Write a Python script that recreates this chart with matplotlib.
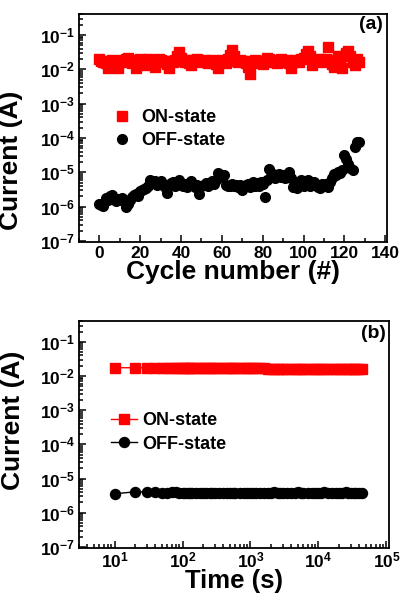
import numpy as np
import matplotlib
matplotlib.use("Agg")
import matplotlib.pyplot as plt
from matplotlib.ticker import LogLocator, MultipleLocator, NullFormatter

# ─── Data ────────────────────────────────────────────────────────────────────
cycles = list(range(128))

on_cycle = [  # x 1e-2 A
    2.0, 1.8, 1.6, 1.5, 1.1, 1.7, 1.9, 1.6, 1.4, 1.1, 1.7, 1.9, 1.6, 2.0, 2.1, 1.8,
    1.5, 1.9, 1.1, 1.6, 2.0, 1.8, 1.3, 1.9, 2.0, 1.7, 1.5, 1.2, 1.8, 2.0, 1.9, 1.6,
    1.7, 1.4, 1.1, 1.8, 1.6, 1.9, 2.4, 3.2, 2.2, 1.8, 1.6, 1.9, 1.5, 1.3, 1.9, 1.8,
    2.0, 1.7, 1.6, 1.9, 1.8, 1.5, 1.8, 1.9, 1.6, 1.4, 1.1, 1.7, 1.9, 1.8, 1.5, 2.0,
    2.6, 3.6, 2.4, 1.8, 1.6, 1.9, 1.7, 1.8, 1.5, 1.2, 0.75, 1.5, 1.9, 1.7, 1.8, 1.6,
    1.4, 1.8, 2.1, 2.0, 1.7, 1.6, 1.9, 1.5, 1.8, 2.0, 1.6, 1.7, 1.9, 1.5, 1.1, 1.6,
    1.9, 1.8, 1.6, 2.0, 2.2, 2.8, 3.4, 2.4, 1.3, 1.9, 1.7, 1.8, 2.0, 1.6, 1.7, 2.0,
    4.4, 1.9, 1.4, 1.2, 1.8, 2.4, 1.9, 1.1, 2.4, 2.9, 3.4, 2.5, 1.6, 1.3, 2.0, 1.6,
]
off_cycle = [  # x 1e-6 A
    1.2, 1.1, 1.05, 1.8, 1.6, 2.0, 2.2, 1.7, 1.5, 1.7, 1.6, 1.8, 1.5, 1.0, 1.2, 1.6,
    1.9, 2.2, 2.4, 2.0, 2.9, 3.0, 3.3, 3.5, 3.9, 5.8, 4.8, 5.5, 4.2, 5.0, 5.6, 4.4,
    3.8, 2.5, 4.0, 4.8, 5.3, 4.1, 4.8, 5.8, 4.4, 3.9, 4.6, 3.7, 4.4, 5.7, 4.2, 3.8,
    4.3, 2.4, 3.9, 4.4, 5.0, 4.0, 4.9, 5.6, 4.5, 6.0, 9.8, 7.5, 8.6, 8.4, 4.3, 3.9,
    4.1, 4.6, 4.0, 4.4, 3.7, 4.2, 3.0, 3.9, 4.3, 4.7, 3.8, 5.1, 4.0, 5.0, 4.1, 5.3,
    4.5, 1.9, 6.0, 12.5, 8.0, 9.2, 7.0, 8.6, 9.0, 7.4, 8.2, 6.8, 8.0, 10.5, 7.0, 3.8,
    4.5, 3.6, 4.2, 5.8, 4.0, 4.6, 5.9, 3.9, 4.2, 5.1, 4.4, 3.8, 3.4, 4.6, 4.2, 4.6,
    3.8, 5.2, 6.8, 9.2, 8.6, 10.4, 9.6, 11.5, 33.0, 24.0, 17.0, 13.5, 12.0, 55.0, 78.0, 74.0,
]

time_s = [
    10, 20, 30, 40, 50, 60, 70, 80, 90, 100, 110, 120, 130, 140, 160, 180, 200, 225,
    250, 275, 300, 350, 400, 450, 500, 550, 600, 700, 800, 900, 1000, 1100, 1200,
    1400, 1600, 1800, 2000, 2250, 2500, 2750, 3000, 3500, 4000, 4500, 5000, 5500,
    6000, 7000, 8000, 9000, 10000, 11000, 12000, 14000, 16000, 18000, 20000, 22500,
    25000, 27500, 30000, 33000, 36000, 39500, 43200,
]
on_time = [  # x 1e-2 A
    1.75, 1.75, 1.74, 1.74, 1.73, 1.73, 1.73, 1.73, 1.72, 1.72, 1.72, 1.72, 1.72,
    1.71, 1.71, 1.71, 1.71, 1.70, 1.70, 1.70, 1.70, 1.70, 1.69, 1.69, 1.69, 1.69,
    1.69, 1.68, 1.68, 1.68, 1.68, 1.68, 1.67, 1.67, 1.67, 1.66, 1.66, 1.66, 1.65,
    1.65, 1.65, 1.64, 1.64, 1.63, 1.63, 1.63, 1.62, 1.62, 1.61, 1.61, 1.61, 1.60,
    1.60, 1.60, 1.59, 1.59, 1.59, 1.59, 1.58, 1.58, 1.58, 1.58, 1.57, 1.57, 1.57,
]
off_time = [  # x 1e-6 A
    3.6, 4.1, 4.1, 4.0, 3.9, 3.8, 4.0, 4.0, 3.9, 3.8, 3.7, 3.8, 3.8, 3.9, 3.8, 3.8,
    3.9, 3.8, 3.8, 3.9, 3.8, 3.9, 3.9, 3.8, 3.9, 3.9, 3.8, 3.9, 3.9, 3.8, 3.9, 3.9,
    3.9, 3.9, 3.9, 3.9, 3.9, 4.0, 3.9, 3.9, 3.9, 3.9, 3.9, 3.9, 4.0, 3.9, 3.9, 3.9,
    3.9, 3.9, 3.9, 3.9, 4.0, 3.9, 3.9, 3.9, 3.9, 3.9, 4.0, 3.9, 3.9, 3.9, 3.9, 3.9,
    3.9,
]

current_ticks = [1e-7, 1e-6, 1e-5, 1e-4, 1e-3, 1e-2, 1e-1]
time_ticks = [1e1, 1e2, 1e3, 1e4, 1e5]

RED = "#ff0000"
BLACK = "#000000"

plt.rcParams.update({
    "font.family": ["Liberation Sans", "DejaVu Sans"],
    "font.weight": "bold",
    "mathtext.fontset": "custom",
    "mathtext.rm": "Liberation Sans:bold",
    "mathtext.bf": "Liberation Sans:bold",
    "mathtext.default": "bf",
    "axes.linewidth": 1.3,
})

fig = plt.figure(figsize=(4.04, 6.02), dpi=100)
ax_a = fig.add_axes([0.1955, 0.598, 0.763, 0.3787])
ax_b = fig.add_axes([0.1955, 0.0897, 0.768, 0.3771])


def style_axis(ax):
    ax.set_yscale("log")
    ax.set_ylim(10 ** -7.03, 10 ** -0.39)
    ax.set_yticks(current_ticks)
    ax.yaxis.set_minor_locator(LogLocator(base=10, subs=np.arange(2, 10), numticks=15))
    ax.yaxis.set_minor_formatter(NullFormatter())
    ax.tick_params(which="both", direction="in", top=False, right=False,
                   labelsize=12.5, width=1.1, pad=3)
    ax.tick_params(which="major", length=5)
    ax.tick_params(which="minor", length=2.8)
    ax.set_ylabel("Current (A)", fontsize=19, fontweight="bold")


# ─── (a) cycling ─────────────────────────────────────────────────────────────
on_a = np.array(on_cycle) * 1e-2
off_a = np.array(off_cycle) * 1e-6
ax_a.plot(cycles, on_a, "s", color=RED, ms=6.5, mec=RED, label="ON-state")
ax_a.plot(cycles, off_a, "o", color=BLACK, ms=7, label="OFF-state")
style_axis(ax_a)
ax_a.yaxis.set_label_coords(-0.182, 0.36)
ax_a.set_xlim(-10, 141)
ax_a.xaxis.set_major_locator(MultipleLocator(20))
ax_a.xaxis.set_minor_locator(MultipleLocator(10))
ax_a.set_xlabel("Cycle number (#)", fontsize=19, fontweight="bold", labelpad=-1)
ax_a.text(0.987, 0.952, "(a)", transform=ax_a.transAxes, ha="right", va="center",
          fontsize=14, fontweight="bold")
ax_a.legend(loc="upper left", bbox_to_anchor=(0.08, 0.615), frameon=False,
            fontsize=13, handlelength=1.2, handletextpad=0.5, labelspacing=0.35,
            borderaxespad=0)

# ─── (b) retention ───────────────────────────────────────────────────────────
on_b = np.array(on_time) * 1e-2
off_b = np.array(off_time) * 1e-6
ax_b.plot(time_s, on_b, "-s", color=RED, lw=1, ms=6.5, label="ON-state")
ax_b.plot(time_s, off_b, "-o", color=BLACK, lw=1, ms=7.2, label="OFF-state")
style_axis(ax_b)
ax_b.yaxis.set_label_coords(-0.174, 0.564)
ax_b.set_xscale("log")
ax_b.set_xlim(3.0, 1.1e5)
ax_b.set_xticks(time_ticks)
ax_b.xaxis.set_minor_locator(LogLocator(base=10, subs=np.arange(2, 10), numticks=10))
ax_b.xaxis.set_minor_formatter(NullFormatter())
ax_b.tick_params(which="both", direction="in", top=False, right=False)
ax_b.tick_params(axis="x", pad=1.5)
ax_b.set_xlabel("Time (s)", fontsize=18.5, fontweight="bold", labelpad=-1)
ax_b.text(0.99, 0.947, "(b)", transform=ax_b.transAxes, ha="right", va="center",
          fontsize=14, fontweight="bold")
ax_b.legend(loc="upper left", bbox_to_anchor=(0.08, 0.63), frameon=False,
            fontsize=13, handlelength=1.45, handletextpad=0.3, labelspacing=0.35,
            borderaxespad=0)

fig.savefig("out.png", dpi=100)
plt.close(fig)
